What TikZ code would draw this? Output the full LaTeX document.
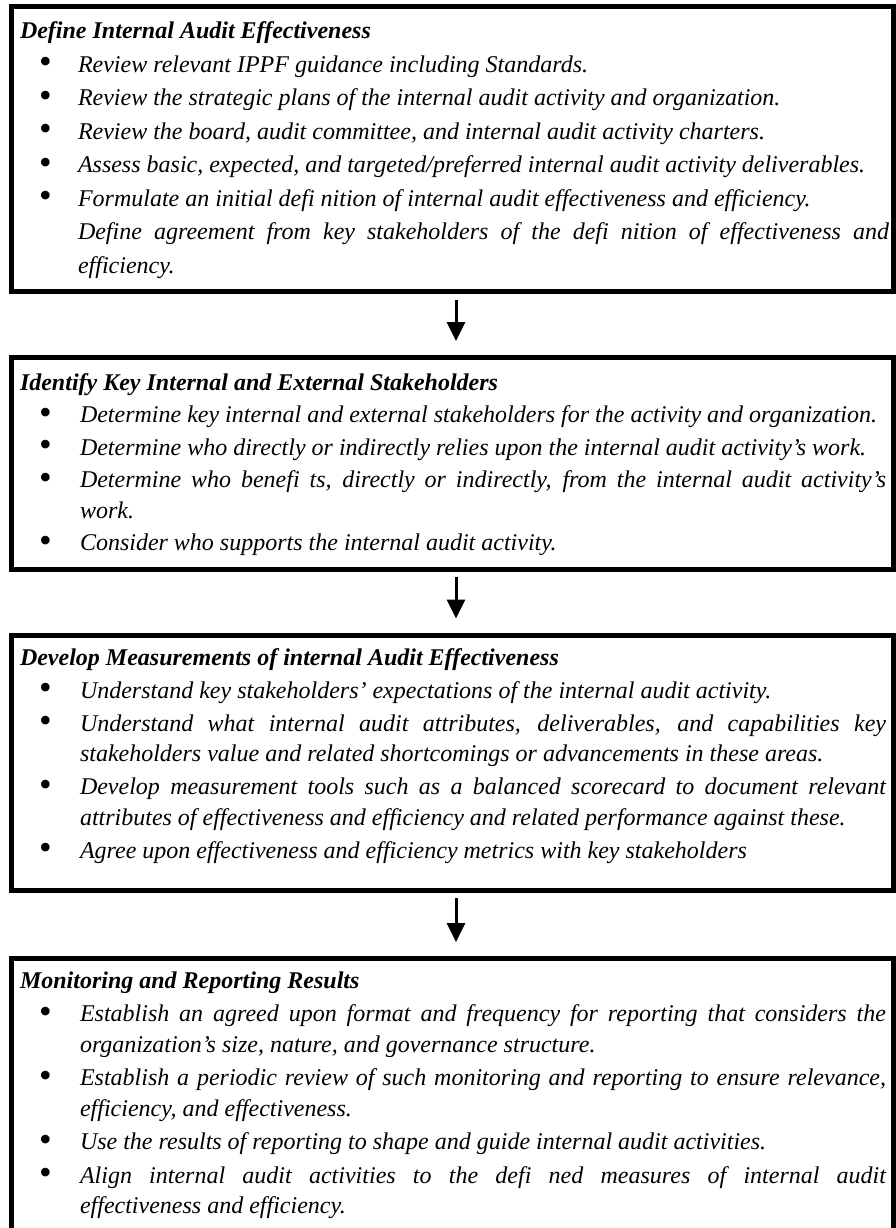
\documentclass[tikz,border=0pt]{standalone}
\usepackage{fontspec}
\setmainfont{Liberation Serif}
\usetikzlibrary{arrows.meta}

% list layout: indent of item text and position of the bullet
\newlength\bulind
\newlength\bulx
\setlength\bulind{58pt}
\setlength\bulx{19pt}
\newcommand\bigbullet{\raisebox{-1.5pt}{\scalebox{1.5}{\upshape\textbullet}}}
\newcommand\bitem[1]{\par\noindent\hangindent=\bulind\hangafter=1%
  \makebox[\bulind][l]{\hspace*{\bulx}\bigbullet}#1\par}
\newcommand\pitem[1]{\par\noindent\hangindent=\bulind\hangafter=1%
  \makebox[\bulind][l]{}#1\par}
\newcommand\phead[1]{\noindent{\bfseries #1}\par}

\tikzset{
  x=1pt, y=-1pt,
  panel/.style={draw=black, line width=5pt, inner sep=0pt, outer sep=0pt,
    anchor=north west, minimum width=882pt},
  body/.style={anchor=base west, inner sep=0pt, outer sep=0pt,
    text width=866pt, align=justify,
    font=\fontsize{24pt}{33.5pt}\selectfont\itshape},
  tight/.style={font=\fontsize{24pt}{30.5pt}\selectfont\itshape},
  flow/.style={draw=black, line width=3pt,
    -{Triangle[width=18pt,length=19pt]},
    shorten <=8pt, shorten >=16.5pt},
}

\begin{document}
\begin{tikzpicture}
\useasboundingbox (0,0) rectangle (896,1228);
\fill[white] (0,0) rectangle (896,1228);

% the four stage frames
\node[panel, minimum height=284.5pt] (b1) at (11.5,7) {};
\node[panel, minimum height=211.5pt] (b2) at (11.5,357.5) {};
\node[panel, minimum height=255pt] (b3) at (11.5,635) {};
\node[panel, minimum height=281.5pt] (b4) at (11.5,958.5) {};

% stage texts
\node[body, text width=869pt] (t1) at (20,39) {%
\phead{Define Internal Audit Effectiveness}
\bitem{Review relevant IPPF guidance including Standards.}
\bitem{Review the strategic plans of the internal audit activity and organization.}
\bitem{Review the board, audit committee, and internal audit activity charters.}
\bitem{Assess basic, expected, and targeted/preferred internal audit activity deliverables.}
\bitem{Formulate an initial defi nition of internal audit effectiveness and efficiency.}
\pitem{Define agreement from key stakeholders of the defi nition of effectiveness and\linebreak efficiency.}};

\node[body, tight] (t2) at (20,390) {%
\setlength\bulind{60pt}\setlength\parskip{2pt}%
\phead{Identify Key Internal and External Stakeholders}
\bitem{Determine key internal and external stakeholders for the activity and organization.}
\bitem{Determine who directly or indirectly relies upon the internal audit activity’s work.}
\bitem{Determine who benefi ts, directly or indirectly, from the internal audit activity’s\linebreak work.}
\bitem{Consider who supports the internal audit activity.}};

\node[body, tight] (t3) at (20,665) {%
\setlength\bulind{60pt}\setlength\parskip{2.5pt}%
\phead{Develop Measurements of internal Audit Effectiveness}
\bitem{Understand key stakeholders’ expectations of the internal audit activity.}
\bitem{Understand what internal audit attributes, deliverables, and capabilities key\linebreak stakeholders value and related shortcomings or advancements in these areas.}
\bitem{Develop measurement tools such as a balanced scorecard to document relevant\linebreak attributes of effectiveness and efficiency and related performance against these.}
\bitem{Agree upon effectiveness and efficiency metrics with key stakeholders}};

\node[body, tight] (t4) at (20,988) {%
\setlength\bulind{60pt}\setlength\parskip{3pt}%
\phead{Monitoring and Reporting Results}
\bitem{Establish an agreed upon format and frequency for reporting that considers the\linebreak organization’s size, nature, and governance structure.}
\bitem{Establish a periodic review of such monitoring and reporting to ensure relevance,\linebreak efficiency, and effectiveness.}
\bitem{Use the results of reporting to shape and guide internal audit activities.}
\bitem{Align internal audit activities to the defi ned measures of internal audit\linebreak effectiveness and efficiency.}};

% flow between the stages
\draw[flow] ([xshift=3.5pt]b1.south) -- ([xshift=3.5pt]b2.north);
\draw[flow] ([xshift=3.5pt]b2.south) -- ([xshift=3.5pt]b3.north);
\draw[flow] ([xshift=3.5pt]b3.south) -- ([xshift=3.5pt]b4.north);
\end{tikzpicture}
\end{document}
